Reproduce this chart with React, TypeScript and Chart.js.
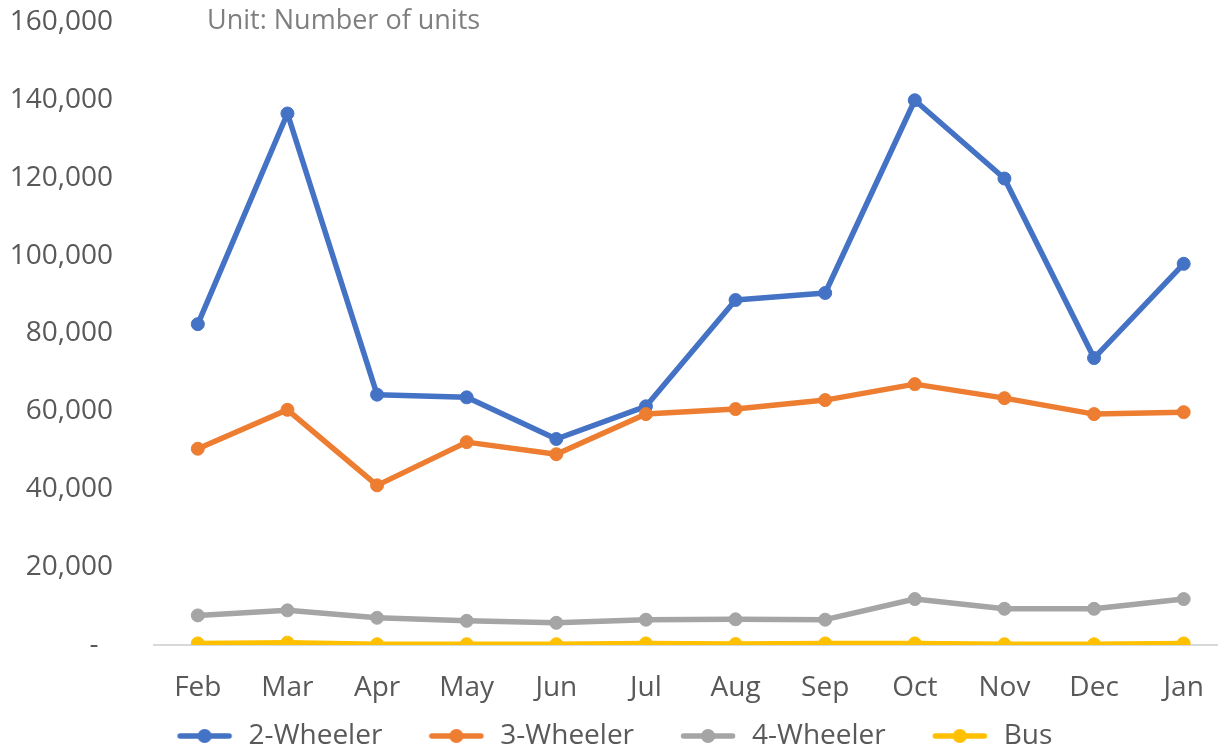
import { useEffect, useRef } from "react";
import { Chart, registerables } from "chart.js";

Chart.register(...registerables);

const categories = ["Feb", "Mar", "Apr", "May", "Jun", "Jul", "Aug", "Sep", "Oct", "Nov", "Dec", "Jan"];
const twoWheeler = [82400, 136500, 64300, 63600, 52900, 61300, 88600, 90400, 139900, 119800, 73700, 97900];
const threeWheeler = [50400, 60400, 41000, 52100, 49000, 59300, 60600, 62900, 67000, 63400, 59300, 59800];
const fourWheeler = [7600, 8900, 7000, 6200, 5700, 6500, 6600, 6500, 11800, 9300, 9300, 11800];
const bus = [400, 600, 200, 200, 200, 400, 250, 400, 400, 200, 200, 400];
const seriesNames = ["2-Wheeler", "3-Wheeler", "4-Wheeler", "Bus"];
const seriesColors = ["#4472C4", "#ED7D31", "#A5A5A5", "#FFC000"];
const unitLabel = "Unit: Number of units";
const yMin = 0;
const yMax = 160000;
const yStep = 20000;

const FONT = '"Open Sans", "DejaVu Sans", sans-serif';
const TEXT = "#595959";
const CLEAR = "rgba(0,0,0,0)";

function makeMarker(color: string): HTMLCanvasElement {
  const c = document.createElement("canvas");
  c.width = 87;
  c.height = 16;
  const g = c.getContext("2d")!;
  g.strokeStyle = color;
  g.lineWidth = 5.5;
  g.lineCap = "round";
  g.beginPath();
  g.moveTo(32.5, 8);
  g.lineTo(81.5, 8);
  g.stroke();
  g.fillStyle = color;
  g.beginPath();
  g.arc(57, 8, 7, 0, Math.PI * 2);
  g.fill();
  return c;
}

const unitTitle = {
  id: "unitTitle",
  afterDraw(chart: any) {
    const ctx = chart.ctx;
    ctx.save();
    ctx.font = `27px ${FONT}`;
    ctx.fillStyle = "#7F7F7F";
    ctx.textAlign = "left";
    ctx.textBaseline = "middle";
    ctx.fillText(unitLabel, chart.chartArea.left + 54, 21);
    ctx.restore();
  },
};

export default function App() {
  const ref = useRef<HTMLCanvasElement>(null);

  useEffect(() => {
    if (!ref.current) return;
    const values = [twoWheeler, threeWheeler, fourWheeler, bus];
    const markers = seriesColors.map(makeMarker);
    const chart = new Chart(ref.current, {
      type: "line",
      data: {
        labels: categories,
        datasets: values.map((v, i) => ({
          label: seriesNames[i],
          data: v,
          borderColor: seriesColors[i],
          backgroundColor: seriesColors[i],
          borderWidth: 5.5,
          pointRadius: 6.5,
          pointBorderWidth: 1,
          borderCapStyle: "round",
          borderJoinStyle: "round",
          order: 4 - i,
        })),
      },
      options: {
        responsive: false,
        animation: false,
        layout: { padding: { top: 22, left: -36, right: 0, bottom: 0 } },
        plugins: {
          tooltip: { enabled: false },
          legend: {
            position: "bottom",
            labels: {
              usePointStyle: true,
              pointStyleWidth: 87,
              boxHeight: 16,
              padding: 17,
              color: TEXT,
              font: { family: FONT, size: 28 },
              generateLabels: (c: any) =>
                c.data.datasets.map((d: any, i: number) => ({
                  text: d.label,
                  fillStyle: seriesColors[i],
                  strokeStyle: seriesColors[i],
                  lineWidth: 0,
                  pointStyle: markers[i],
                  fontColor: TEXT,
                  hidden: false,
                  datasetIndex: i,
                })),
            },
          },
        },
        scales: {
          x: {
            offset: true,
            grid: { display: true, color: CLEAR, tickColor: CLEAR, drawTicks: true, tickLength: 26 },
            border: { display: false },
            ticks: { padding: 0, color: TEXT, font: { family: FONT, size: 28 } },
            afterFit: (s: any) => {
              s.height = 60;
            },
          },
          y: {
            min: yMin,
            max: yMax,
            border: { display: false },
            grid: {
              drawTicks: true,
              tickLength: 40,
              tickColor: CLEAR,
              lineWidth: 2,
              color: (ctx: any) => (ctx.tick && ctx.tick.value === 0 ? "#D9D9D9" : CLEAR),
            },
            ticks: {
              stepSize: yStep,
              padding: 0,
              color: TEXT,
              font: { family: FONT, size: 28 },
              callback: (v: any) => (Number(v) === 0 ? "-  " : Number(v).toLocaleString("en-US")),
            },
            afterFit: (s: any) => {
              s.width = 189;
            },
          },
        },
      },
      plugins: [unitTitle],
    });
    return () => chart.destroy();
  }, []);

  return (
    <div style={{ position: "fixed", left: 0, top: 0, width: 1218, height: 748, overflow: "hidden", background: "#fff" }}>
      <canvas ref={ref} width={1236} height={760} style={{ display: "block" }} />
    </div>
  );
}
